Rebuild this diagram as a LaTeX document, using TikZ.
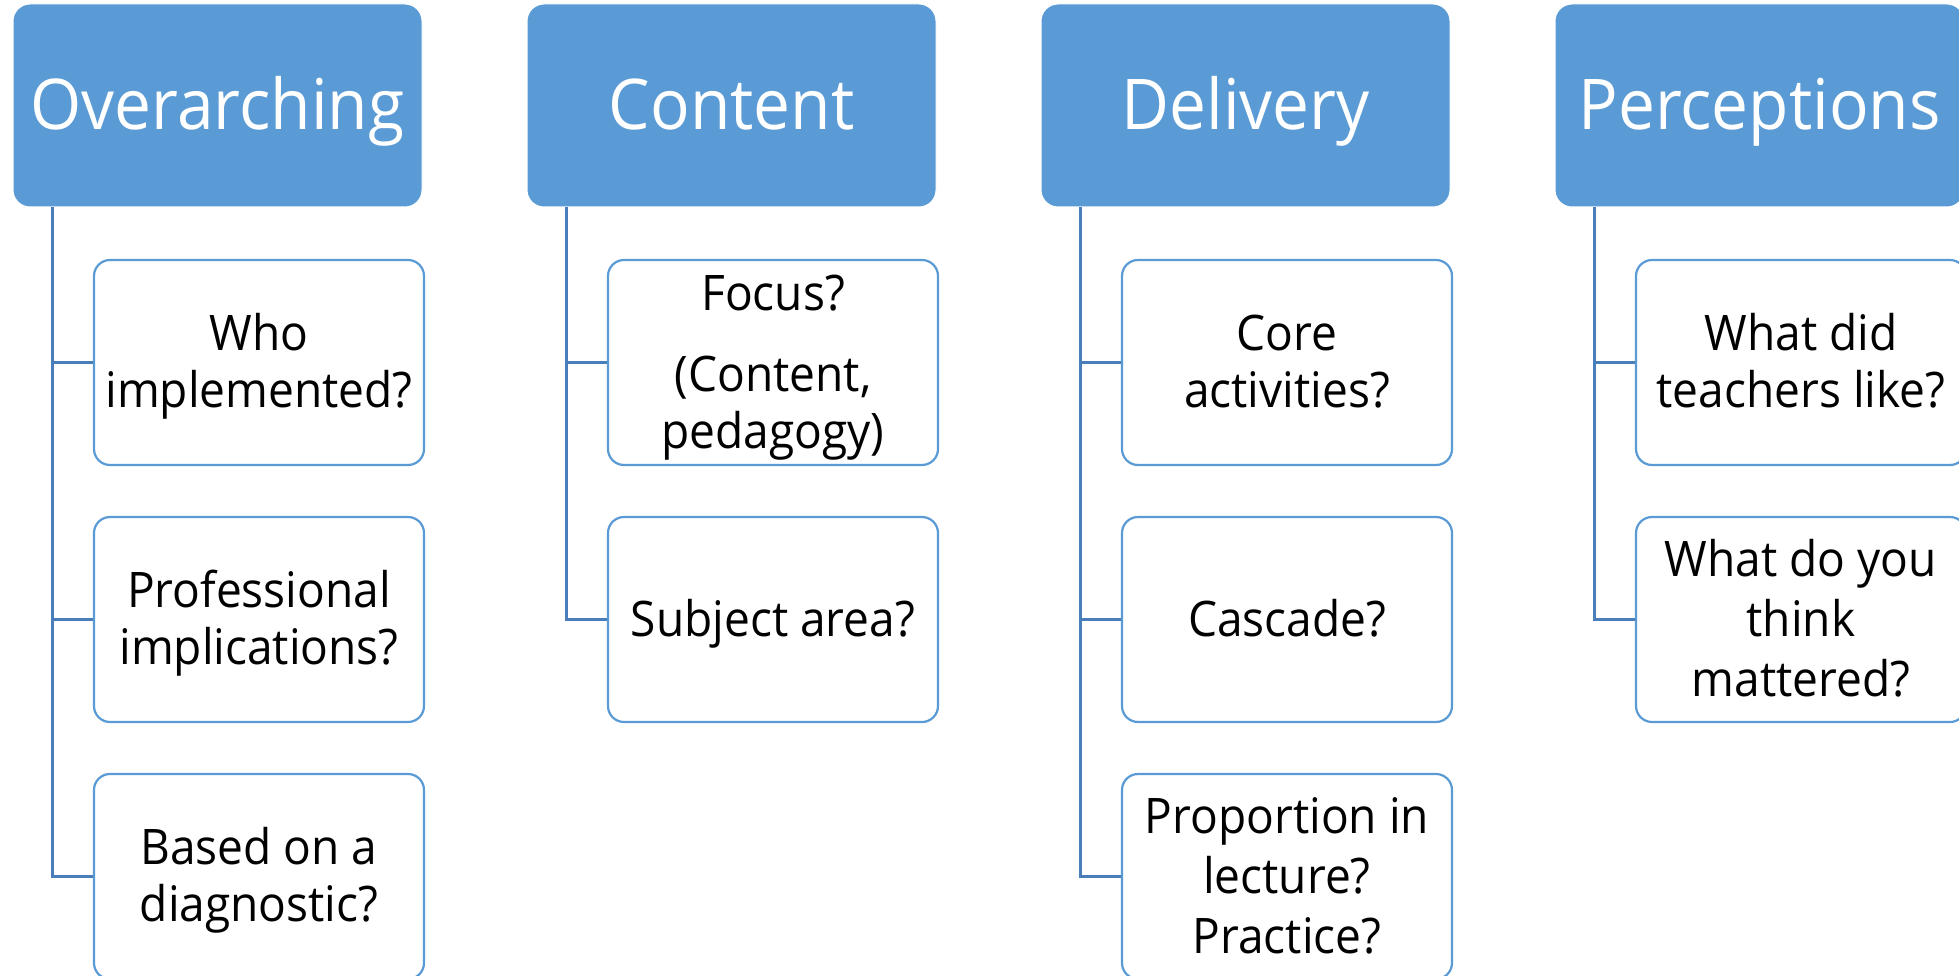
\documentclass[tikz,border=0pt]{standalone}
\usepackage{fontspec}
\setmainfont{Open Sans}[FakeStretch=0.94]
\definecolor{hdrblue}{HTML}{5B9BD5}
\definecolor{linkblue}{HTML}{4A7EBB}
\newcommand\mytopstrut{\rule{0pt}{47pt}}
\newcommand\mybotstrut{\rule[-14pt]{0pt}{14pt}}
\begin{document}
\begin{tikzpicture}[x=1pt,y=-1pt,
  hdr/.style={rectangle, rounded corners=17pt, fill=hdrblue, draw=white, line width=1pt,
    minimum width=409pt, minimum height=203pt, inner sep=0pt, text=white,
    text height=63pt, text depth=14pt,
    font=\fontsize{70}{74}\selectfont},
  sub/.style={rectangle, rounded corners=16pt, fill=white, draw=hdrblue, line width=2.2pt,
    minimum width=330pt, minimum height=205pt, inner sep=0pt, align=center,
    font=\fontsize{49}{57}\selectfont},
  subthree/.style={sub, font=\fontsize{49}{60}\selectfont},
  link/.style={draw=linkblue, line width=2.2pt}]
\useasboundingbox (0,0) rectangle (1959,976);
\clip (0,0) rectangle (1959,976);

% column 1
\node[hdr] (h1) at (217.5,105.5) {Overarching};
\node[sub] (a1) at (259,362.5) {\mytopstrut Who\\implemented?\mybotstrut};
\node[sub] (a2) at (259,619.5) {\mytopstrut Professional\\implications?\mybotstrut};
\node[sub] (a3) at (259,876.5) {\mytopstrut Based on a\\diagnostic?\mybotstrut};
\coordinate (t1) at ([xshift=40pt]h1.south west);
\draw[link] (t1) |- (a3.west);
\draw[link] (t1 |- a1.west) -- (a1.west);
\draw[link] (t1 |- a2.west) -- (a2.west);

% column 2
\node[hdr] (h2) at (731.5,105.5) {Content};
\node[sub] (b1) at (773,362.5) {\mytopstrut Focus?\\[24pt](Content,\\pedagogy)\mybotstrut};
\node[sub] (b2) at (773,619.5) {\mytopstrut Subject area?\mybotstrut};
\coordinate (t2) at ([xshift=40pt]h2.south west);
\draw[link] (t2) |- (b2.west);
\draw[link] (t2 |- b1.west) -- (b1.west);

% column 3
\node[hdr] (h3) at (1245.5,105.5) {Delivery};
\node[sub] (c1) at (1287,362.5) {\mytopstrut Core\\activities?\mybotstrut};
\node[sub] (c2) at (1287,619.5) {\mytopstrut Cascade?\mybotstrut};
\node[subthree] (c3) at (1287,876.5) {\mytopstrut Proportion in\\lecture?\\Practice?\mybotstrut};
\coordinate (t3) at ([xshift=40pt]h3.south west);
\draw[link] (t3) |- (c3.west);
\draw[link] (t3 |- c1.west) -- (c1.west);
\draw[link] (t3 |- c2.west) -- (c2.west);

% column 4
\node[hdr] (h4) at (1759.5,105.5) {Perceptions};
\node[sub] (d1) at (1801,362.5) {\mytopstrut What did\\teachers like?\mybotstrut};
\node[subthree] (d2) at (1801,619.5) {\mytopstrut What do you\\think\\mattered?\mybotstrut};
\coordinate (t4) at ([xshift=40pt]h4.south west);
\draw[link] (t4) |- (d2.west);
\draw[link] (t4 |- d1.west) -- (d1.west);
\end{tikzpicture}
\end{document}
